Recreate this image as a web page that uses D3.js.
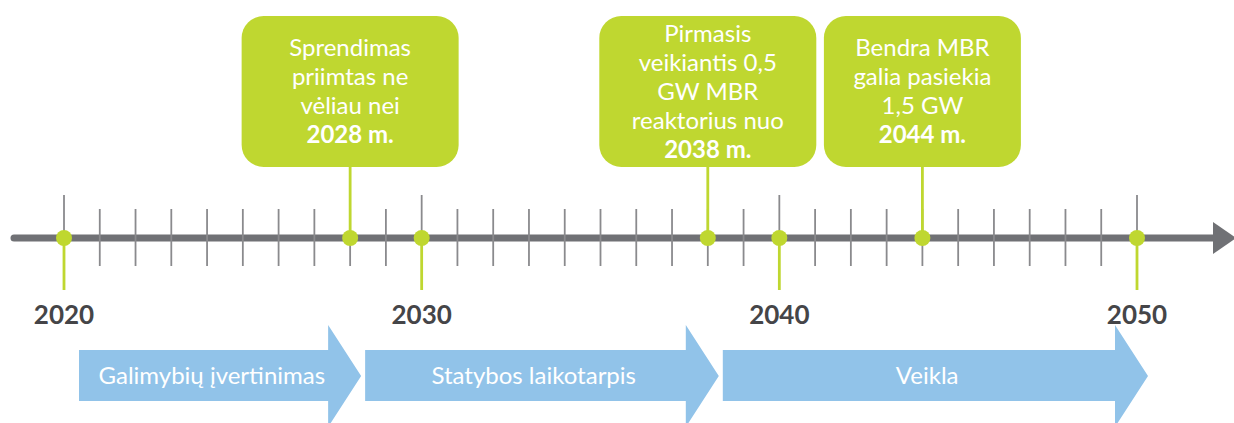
<!DOCTYPE html>
<html lang="lt">
<head>
<meta charset="utf-8">
<title>MBR laiko juosta</title>
<style>
  body { margin: 0; background: #fff; }
  svg { display: block; font-family: Lato, "Open Sans", sans-serif; }
</style>
</head>
<body>
<script src="https://cdn.jsdelivr.net/npm/d3@7"></script>
<script>
// data
var decadeYears = [2020, 2030, 2040, 2050];
var eventYears = [2028, 2038, 2044];
var eventText = [
  ["Sprendimas", "priimtas ne", "vėliau nei"],
  ["Pirmasis", "veikiantis 0,5", "GW MBR", "reaktorius nuo"],
  ["Bendra MBR", "galia pasiekia", "1,5 GW"]
];
var eventBold = ["2028 m.", "2038 m.", "2044 m."];
var phaseNames = ["Galimybių įvertinimas", "Statybos laikotarpis", "Veikla"];
var phaseStart = [2020, 2028, 2038];
var phaseEnd = [2028, 2038, 2050];

// layout
var W = 1234, H = 423;
var axisY = 238;
var green = "#bfd730", grey = "#707175", tickGrey = "#8a8a8d", blue = "#91c3e9";
var boxW = [217, 217, 197], boxTop = 16, boxBottom = 167;

var svg = d3.select("body").append("svg").attr("width", W).attr("height", H);
var x = d3.scaleLinear().domain([2020, 2050]).range([64, 1137]);

var allYears = d3.range(2020, 2051);

// main line + arrowhead
svg.append("line")
  .attr("x1", 14).attr("x2", 1214).attr("y1", axisY).attr("y2", axisY)
  .attr("stroke", grey).attr("stroke-width", 7).attr("stroke-linecap", "round");
svg.append("path")
  .attr("d", "M1213,222 L1236,238 L1213,254 Z")
  .attr("fill", grey);

// yearly ticks
svg.selectAll("line.tick").data(allYears).enter().append("line")
  .attr("class", "tick")
  .attr("x1", function(d){return x(d)}).attr("x2", function(d){return x(d)})
  .attr("y1", function(d){return decadeYears.indexOf(d) >= 0 ? 195 : 209})
  .attr("y2", function(d){return decadeYears.indexOf(d) >= 0 ? axisY : 266})
  .attr("stroke", tickGrey).attr("stroke-width", 1.8);

// green drops below decades
svg.selectAll("line.drop").data(decadeYears).enter().append("line")
  .attr("class", "drop")
  .attr("x1", function(d){return x(d)}).attr("x2", function(d){return x(d)})
  .attr("y1", axisY).attr("y2", 290)
  .attr("stroke", green).attr("stroke-width", 2.8);

// green connectors from boxes
svg.selectAll("line.conn").data(eventYears).enter().append("line")
  .attr("class", "conn")
  .attr("x1", function(d){return x(d)}).attr("x2", function(d){return x(d)})
  .attr("y1", boxBottom).attr("y2", axisY)
  .attr("stroke", green).attr("stroke-width", 2.8);

// dots
svg.selectAll("circle").data(decadeYears.concat(eventYears)).enter().append("circle")
  .attr("cx", function(d){return x(d)}).attr("cy", axisY).attr("r", 8)
  .attr("fill", green);

// decade labels
svg.selectAll("text.year").data(decadeYears).enter().append("text")
  .attr("class", "year")
  .attr("x", function(d){return x(d)}).attr("y", 324)
  .attr("text-anchor", "middle")
  .attr("font-size", 26).attr("font-weight", 700).attr("fill", "#454548")
  .text(function(d){return d});

// event boxes
var lh = 29;
eventYears.forEach(function(yr, i) {
  var cx = x(yr), w = boxW[i];
  var g = svg.append("g");
  g.append("rect")
    .attr("x", cx - w / 2).attr("y", boxTop)
    .attr("width", w).attr("height", boxBottom - boxTop)
    .attr("rx", 22).attr("fill", green);
  var lines = eventText[i].concat([eventBold[i]]);
  var n = lines.length;
  var mid = (boxTop + boxBottom) / 2;
  var first = mid - ((n - 1) * lh) / 2 + 8;
  g.selectAll("text").data(lines).enter().append("text")
    .attr("x", cx).attr("y", function(d, j){return first + j * lh})
    .attr("text-anchor", "middle").attr("fill", "#fff")
    .attr("font-size", 24)
    .attr("font-weight", function(d, j){return j == n - 1 ? 700 : 400})
    .text(function(d){return d});
});

// phase arrows
var bodyTop = 350, bodyBot = 401, headTop = 325, headBot = 427, headLen = 33;
phaseNames.forEach(function(name, i) {
  var x0 = x(phaseStart[i]) + 15;
  var tip = x(phaseEnd[i]) + 11;
  var hx = tip - headLen;
  var midY = (headTop + headBot) / 2;
  var d = "M" + x0 + "," + bodyTop + " L" + hx + "," + bodyTop + " L" + hx + "," + headTop +
    " L" + tip + "," + midY + " L" + hx + "," + headBot + " L" + hx + "," + bodyBot +
    " L" + x0 + "," + bodyBot + " Z";
  svg.append("path").attr("d", d).attr("fill", blue);
  svg.append("text")
    .attr("x", (x0 + tip - headLen / 2) / 2).attr("y", 384)
    .attr("text-anchor", "middle").attr("fill", "#fff")
    .attr("font-size", 24)
    .text(name);
});
</script>
</body>
</html>
